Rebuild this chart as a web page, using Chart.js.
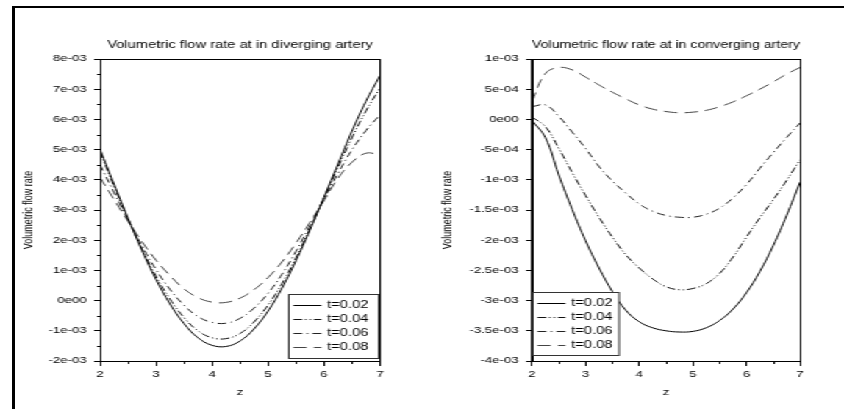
<!DOCTYPE html>
<html>
<head>
<meta charset="utf-8">
<script src="https://cdn.jsdelivr.net/npm/chart.js@4.4.1/dist/chart.umd.min.js"></script>
<style>
    html, body { margin: 0; padding: 0; background: #fff; }
    body { width: 844px; height: 409px; overflow: hidden; position: relative; }
    #frame { position: absolute; left: 12px; top: 6px; width: 900px; height: 500px;
             border-left: 3px solid #000; border-top: 2px solid #000; }
    /* the reference is a horizontally stretched export, so draw narrow and stretch */
    #stretch { position: absolute; left: 0; top: 0; width: 574px; height: 409px;
               transform: scaleX(1.4704); transform-origin: 0 0; }
    #stretch canvas { position: absolute; top: 0; }
</style>
</head>
<body>
<div id="frame"></div>
<div id="stretch">
    <canvas id="diverging-chart" width="287" height="409" style="left:0"></canvas>
    <canvas id="converging-chart" width="287" height="409" style="left:287px"></canvas>
</div>
<script>
// z positions along the artery
const zValues = [2, 2.25, 2.5, 2.75, 3, 3.25, 3.5, 3.75, 4, 4.25, 4.5, 4.75, 5, 5.25, 5.5, 5.75, 6, 6.25, 6.5, 6.75, 7];
const seriesLabels = ['t=0.02', 't=0.04', 't=0.06', 't=0.08'];

// diverging artery
const divT002 = [5.01e-3, 3.86e-3, 2.73e-3, 1.66e-3, 0.70e-3, -0.11e-3, -0.76e-3, -1.23e-3, -1.48e-3, -1.52e-3, -1.34e-3, -0.94e-3, -0.35e-3, 0.41e-3, 1.32e-3, 2.34e-3, 3.42e-3, 4.52e-3, 5.61e-3, 6.60e-3, 7.45e-3];
const divT004 = [4.93e-3, 3.79e-3, 2.71e-3, 1.71e-3, 0.81e-3, 0.05e-3, -0.56e-3, -1.00e-3, -1.23e-3, -1.26e-3, -1.09e-3, -0.71e-3, -0.15e-3, 0.56e-3, 1.42e-3, 2.38e-3, 3.40e-3, 4.41e-3, 5.39e-3, 6.28e-3, 7.04e-3];
const divT006 = [4.50e-3, 3.58e-3, 2.67e-3, 1.81e-3, 1.03e-3, 0.37e-3, -0.15e-3, -0.53e-3, -0.72e-3, -0.75e-3, -0.59e-3, -0.25e-3, 0.24e-3, 0.87e-3, 1.63e-3, 2.48e-3, 3.36e-3, 4.21e-3, 4.99e-3, 5.63e-3, 6.15e-3];
const divT008 = [4.08e-3, 3.35e-3, 2.63e-3, 1.95e-3, 1.34e-3, 0.83e-3, 0.39e-3, 0.10e-3, -0.05e-3, -0.06e-3, 0.08e-3, 0.36e-3, 0.76e-3, 1.28e-3, 1.90e-3, 2.59e-3, 3.31e-3, 4.05e-3, 4.58e-3, 4.88e-3, 4.83e-3];

// converging artery
const convT002 = [-0.02e-3, -0.30e-3, -0.92e-3, -1.49e-3, -2.01e-3, -2.46e-3, -2.85e-3, -3.16e-3, -3.35e-3, -3.45e-3, -3.50e-3, -3.52e-3, -3.51e-3, -3.45e-3, -3.33e-3, -3.14e-3, -2.87e-3, -2.52e-3, -2.09e-3, -1.59e-3, -1.04e-3];
const convT004 = [0.04e-3, -0.12e-3, -0.48e-3, -0.88e-3, -1.26e-3, -1.62e-3, -1.95e-3, -2.24e-3, -2.46e-3, -2.64e-3, -2.77e-3, -2.82e-3, -2.80e-3, -2.72e-3, -2.55e-3, -2.28e-3, -1.95e-3, -1.63e-3, -1.33e-3, -1.01e-3, -0.67e-3];
const convT006 = [0.21e-3, 0.24e-3, 0.05e-3, -0.21e-3, -0.48e-3, -0.78e-3, -1.02e-3, -1.22e-3, -1.40e-3, -1.52e-3, -1.59e-3, -1.62e-3, -1.62e-3, -1.57e-3, -1.47e-3, -1.30e-3, -1.08e-3, -0.81e-3, -0.55e-3, -0.30e-3, -0.06e-3];
const convT008 = [0.30e-3, 0.76e-3, 0.86e-3, 0.82e-3, 0.70e-3, 0.57e-3, 0.45e-3, 0.34e-3, 0.24e-3, 0.17e-3, 0.13e-3, 0.11e-3, 0.12e-3, 0.15e-3, 0.21e-3, 0.29e-3, 0.39e-3, 0.50e-3, 0.62e-3, 0.75e-3, 0.86e-3];

// axis ticks
const xTickValues = [2, 3, 4, 5, 6, 7];
const xTickLabels = ['2', '3', '4', '5', '6', '7'];
const xMinorValues = [2.5, 3.5, 4.5, 5.5, 6.5];
const divYTickValues = [-2e-3, -1e-3, 0, 1e-3, 2e-3, 3e-3, 4e-3, 5e-3, 6e-3, 7e-3, 8e-3];
const divYTickLabels = ['-2e-03', '-1e-03', '0e00', '1e-03', '2e-03', '3e-03', '4e-03', '5e-03', '6e-03', '7e-03', '8e-03'];
const divYMinorValues = [-1.5e-3, -0.5e-3, 0.5e-3, 1.5e-3, 2.5e-3, 3.5e-3, 4.5e-3, 5.5e-3, 6.5e-3, 7.5e-3];
const convYTickValues = [-4e-3, -3.5e-3, -3e-3, -2.5e-3, -2e-3, -1.5e-3, -1e-3, -0.5e-3, 0, 0.5e-3, 1e-3];
const convYTickLabels = ['-4e-03', '-3.5e-03', '-3e-03', '-2.5e-03', '-2e-03', '-1.5e-03', '-1e-03', '-5e-04', '0e00', '5e-04', '1e-03'];

const lineStyles = [
    { color: '#000', dash: [] },
    { color: '#111', dash: [6, 2, 1, 2, 1, 2] },
    { color: '#222', dash: [6, 3, 1, 3] },
    { color: '#444', dash: [9, 5] }
];

Chart.defaults.font.family = "'Liberation Sans', Arial, sans-serif";
Chart.defaults.color = '#000';

// plot box, minor ticks and the boxed legend inside the plot
const scilabBox = {
    id: 'scilabBox',
    afterDraw(chart, args, opts) {
        const { ctx, chartArea: a, scales: { x, y } } = chart;
        ctx.save();
        ctx.strokeStyle = '#000';
        ctx.lineWidth = 1;
        ctx.strokeRect(Math.round(a.left) + 0.5, Math.round(a.top) + 0.5,
            Math.round(a.right) - Math.round(a.left), Math.round(a.bottom) - Math.round(a.top));

        ctx.beginPath();
        opts.xMinor.forEach(v => {
            const px = Math.round(x.getPixelForValue(v)) + 0.5;
            ctx.moveTo(px, a.bottom);
            ctx.lineTo(px, a.bottom + 3);
        });
        (opts.yMinor || []).forEach(v => {
            const py = Math.round(y.getPixelForValue(v)) + 0.5;
            ctx.moveTo(a.left - 2, py);
            ctx.lineTo(a.left, py);
        });
        ctx.stroke();

        const lg = opts.legend;
        const bx = Math.round(lg.align === 'right' ? a.right - lg.width - 1 : a.left) + 0.5;
        const by = Math.round(a.bottom - lg.bottom - lg.height) + 0.5;
        ctx.fillStyle = '#fff';
        ctx.fillRect(bx, by, lg.width, lg.height);
        ctx.strokeStyle = '#333';
        ctx.strokeRect(bx, by, lg.width, lg.height);

        ctx.font = "10px 'Liberation Sans', Arial, sans-serif";
        ctx.textBaseline = 'middle';
        chart.data.datasets.forEach((ds, i) => {
            const cy = Math.round(by + 10 + i * 14) + 0.5;
            ctx.setLineDash(ds.borderDash || []);
            ctx.strokeStyle = ds.borderColor;
            ctx.beginPath();
            ctx.moveTo(bx + 3, cy);
            ctx.lineTo(bx + 22, cy);
            ctx.stroke();
            ctx.setLineDash([]);
            ctx.fillStyle = '#000';
            ctx.fillText(ds.label, bx + 26, cy);
        });
        ctx.restore();
    }
};

function buildDatasets(seriesList) {
    return seriesList.map((values, i) => ({
        label: seriesLabels[i],
        data: zValues.map((z, j) => ({ x: z, y: values[j] })),
        borderColor: lineStyles[i].color,
        borderDash: lineStyles[i].dash,
        borderWidth: 1,
        pointRadius: 0,
        tension: 0.4,
        fill: false
    }));
}

function renderArteryChart(canvasId, cfg) {
    const ctx = document.getElementById(canvasId).getContext('2d');
    new Chart(ctx, {
        type: 'line',
        data: { datasets: buildDatasets(cfg.series) },
        options: {
            responsive: false,
            animation: false,
            events: [],
            layout: { padding: { left: 0, right: cfg.padRight, top: 0, bottom: 0 } },
            plugins: {
                legend: { display: false },
                tooltip: { enabled: false },
                title: {
                    display: true,
                    text: cfg.title,
                    fullSize: false,
                    color: '#000',
                    font: { size: 10, weight: 'normal' },
                    padding: { top: 39, bottom: 8 }
                },
                scilabBox: {
                    xMinor: xMinorValues,
                    yMinor: cfg.yMinor,
                    legend: cfg.legend
                }
            },
            scales: {
                x: {
                    type: 'linear',
                    min: 2,
                    max: 7,
                    afterBuildTicks: scale => { scale.ticks = xTickValues.map(v => ({ value: v })); },
                    afterFit: scale => { scale.height = 48; },
                    grid: { drawOnChartArea: false, drawTicks: true, tickLength: 5, color: '#000' },
                    border: { display: true, color: '#000', width: 1 },
                    ticks: {
                        font: { size: 9 },
                        color: '#000',
                        padding: 3,
                        maxRotation: 0,
                        autoSkip: false,
                        callback: (value, index) => xTickLabels[index]
                    },
                    title: { display: true, text: 'z', color: '#000', font: { size: 9 }, padding: { top: 0, bottom: 10.6 } }
                },
                y: {
                    type: 'linear',
                    min: cfg.yMin,
                    max: cfg.yMax,
                    afterBuildTicks: scale => { scale.ticks = cfg.yTicks.map(v => ({ value: v })); },
                    afterFit: scale => { scale.width = cfg.yWidth; },
                    grid: { drawOnChartArea: false, drawTicks: true, tickLength: 4, color: '#000' },
                    border: { display: true, color: '#000', width: 1 },
                    ticks: {
                        font: { size: 9 },
                        color: '#000',
                        padding: 5,
                        autoSkip: false,
                        callback: (value, index) => cfg.yLabels[index]
                    },
                    title: {
                        display: true,
                        text: 'Volumetric flow rate',
                        color: '#000',
                        font: { size: 9 },
                        padding: { top: cfg.yTitlePad, bottom: 0 }
                    }
                }
            }
        },
        plugins: [scilabBox]
    });
}

renderArteryChart('diverging-chart', {
    title: 'Volumetric flow rate at in diverging artery',
    series: [divT002, divT004, divT006, divT008],
    yMin: -2e-3, yMax: 8e-3,
    yTicks: divYTickValues, yLabels: divYTickLabels, yMinor: divYMinorValues,
    yWidth: 68, yTitlePad: 14.3, padRight: 28.6,
    legend: { align: 'right', width: 61, height: 64, bottom: 3 }
});

renderArteryChart('converging-chart', {
    title: 'Volumetric flow rate at in converging artery',
    series: [convT002, convT004, convT006, convT008],
    yMin: -4e-3, yMax: 1e-3,
    yTicks: convYTickValues, yLabels: convYTickLabels, yMinor: [],
    yWidth: 74.8, yTitlePad: 12.3, padRight: 29.9,
    legend: { align: 'left', width: 58.5, height: 63, bottom: 6 }
});
</script>
</body>
</html>
